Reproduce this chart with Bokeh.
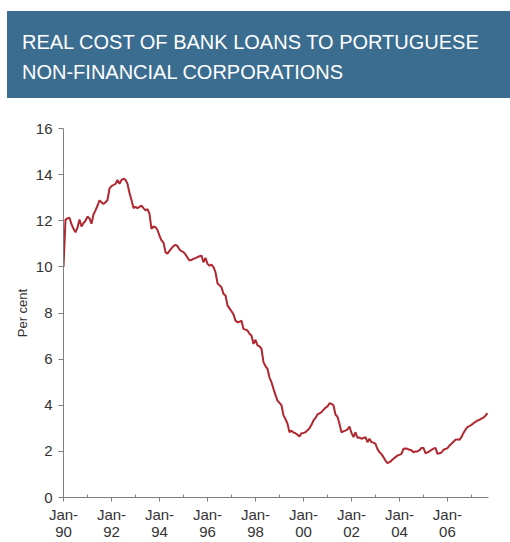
import numpy as np
import pandas as pd
from bokeh.plotting import figure
from bokeh.models import Div, FixedTicker, Range1d
from bokeh.layouts import column
from bokeh.embed import file_html
from bokeh.resources import INLINE

title_lines = ["REAL COST OF BANK LOANS TO PORTUGUESE", "NON-FINANCIAL CORPORATIONS"]
y_label = "Per cent"
major_years = [1990, 1992, 1994, 1996, 1998, 2000, 2002, 2004, 2006]
major_labels = ["Jan-\n90", "Jan-\n92", "Jan-\n94", "Jan-\n96", "Jan-\n98",
                "Jan-\n00", "Jan-\n02", "Jan-\n04", "Jan-\n06"]
minor_years = [1991, 1993, 1995, 1997, 1999, 2001, 2003, 2005, 2007]
y_ticks = [0, 2, 4, 6, 8, 10, 12, 14, 16]

# monthly real cost of bank loans, Jan-1990 .. Sep-2007 (per cent)
cost = [
    10.0, 12.05, 12.1, 12.13, 11.85, 11.65, 11.5, 11.7, 12.05, 11.75, 11.9, 12.0,      # 1990
    12.18, 12.1, 11.87, 12.27, 12.45, 12.65, 12.88, 12.8, 12.73, 12.8, 12.9, 13.4,     # 1991
    13.5, 13.55, 13.6, 13.77, 13.6, 13.77, 13.82, 13.78, 13.6, 13.2, 12.9, 12.55,      # 1992
    12.6, 12.55, 12.6, 12.66, 12.55, 12.45, 12.5, 12.3, 11.65, 11.75, 11.72, 11.6,     # 1993
    11.35, 11.15, 11.05, 10.64, 10.57, 10.7, 10.8, 10.9, 10.96, 10.9, 10.75, 10.68,    # 1994
    10.64, 10.54, 10.4, 10.28, 10.3, 10.35, 10.38, 10.42, 10.46, 10.49, 10.2, 10.39,   # 1995
    10.13, 10.05, 10.1, 9.99, 9.77, 9.29, 9.2, 9.12, 8.83, 8.76, 8.33, 8.2,            # 1996
    8.08, 7.94, 7.67, 7.6, 7.62, 7.67, 7.31, 7.28, 7.24, 7.1, 7.02, 6.66,              # 1997
    6.84, 6.6, 6.55, 6.45, 5.87, 5.7, 5.58, 5.2, 5.0, 4.71, 4.45, 4.2,                 # 1998
    4.1, 4.0, 3.56, 3.4, 3.2, 2.83, 2.9, 2.82, 2.79, 2.72, 2.65, 2.79,                 # 1999
    2.8, 2.83, 2.92, 3.0, 3.15, 3.34, 3.45, 3.6, 3.65, 3.7, 3.8, 3.89,                 # 2000
    3.95, 4.09, 4.06, 4.0, 3.6, 3.5, 3.2, 2.83, 2.87, 2.9, 2.95, 3.08,                 # 2001
    2.8, 2.62, 2.83, 2.59, 2.6, 2.55, 2.58, 2.62, 2.4, 2.55, 2.4, 2.38,                # 2002
    2.33, 2.1, 1.96, 1.89, 1.75, 1.6, 1.49, 1.53, 1.6, 1.68, 1.75, 1.82,               # 2003
    1.85, 1.89, 2.11, 2.12, 2.11, 2.07, 2.05, 1.96, 2.0, 2.0, 2.05, 2.15,              # 2004
    2.15, 1.92, 1.96, 2.0, 2.07, 2.12, 2.15, 1.89, 1.92, 1.95, 2.07, 2.1,              # 2005
    2.14, 2.25, 2.33, 2.42, 2.5, 2.52, 2.5, 2.62, 2.8, 2.94, 3.05, 3.1,                # 2006
    3.15, 3.22, 3.28, 3.33, 3.37, 3.42, 3.46, 3.55, 3.66,                              # 2007
]

dates = pd.date_range("1990-01-01", periods=len(cost), freq="MS")
x = (dates.year + (dates.month - 1) / 12.0).to_numpy()

FONT = "Liberation Sans"

banner = Div(
    text=(
        '<div style="box-sizing:border-box;width:503px;height:87px;margin:11px 0 0 7px;'
        'background:#3b6d91;color:#ffffff;font-family:\'Liberation Sans\',Arial,sans-serif;'
        'font-size:20px;line-height:30px;padding:16px 0 0 15px;white-space:nowrap;">'
        + "<br>".join(title_lines) + "</div>"
    ),
    width=510, height=98, margin=(0, 0, 0, 0),
)

p = figure(
    width=510, height=444,
    output_backend="svg", toolbar_location=None,
    x_range=Range1d(1990, 2007.71), y_range=Range1d(0, 16),
    min_border_left=63, min_border_right=22, min_border_top=30, min_border_bottom=45,
    margin=(0, 0, 0, 0),
)
p.outline_line_color = None
p.xgrid.grid_line_color = None
p.ygrid.grid_line_color = None
p.background_fill_color = "white"
p.border_fill_color = "white"

p.line(x, cost, line_color="#b0272f", line_width=2)

axis_color = "#7f7f7f"
label_color = "#333333"

xa = p.xaxis[0]
xa.ticker = FixedTicker(ticks=major_years, minor_ticks=minor_years)
xa.major_label_overrides = {yr: lab for yr, lab in zip(major_years, major_labels)}
xa.axis_line_color = axis_color
xa.major_tick_line_color = axis_color
xa.minor_tick_line_color = axis_color
xa.major_tick_in = 0
xa.major_tick_out = 4
xa.minor_tick_in = 3
xa.minor_tick_out = 0
xa.major_label_standoff = 4
xa.major_label_text_font = FONT
xa.major_label_text_font_size = "15px"
xa.major_label_text_line_height = 1.0
xa.major_label_text_color = label_color

ya = p.yaxis[0]
ya.ticker = FixedTicker(ticks=y_ticks)
ya.axis_line_color = axis_color
ya.major_tick_line_color = axis_color
ya.minor_tick_line_color = None
ya.major_tick_in = 0
ya.major_tick_out = 5
ya.major_label_standoff = 6
ya.major_label_text_font = FONT
ya.major_label_text_font_size = "15px"
ya.major_label_text_color = label_color
ya.axis_label = y_label
ya.axis_label_text_font = FONT
ya.axis_label_text_font_size = "13px"
ya.axis_label_text_font_style = "normal"
ya.axis_label_text_color = label_color
ya.axis_label_standoff = 3

layout = column(banner, p, spacing=0)
open("out.html", "w").write(file_html(layout, INLINE))
